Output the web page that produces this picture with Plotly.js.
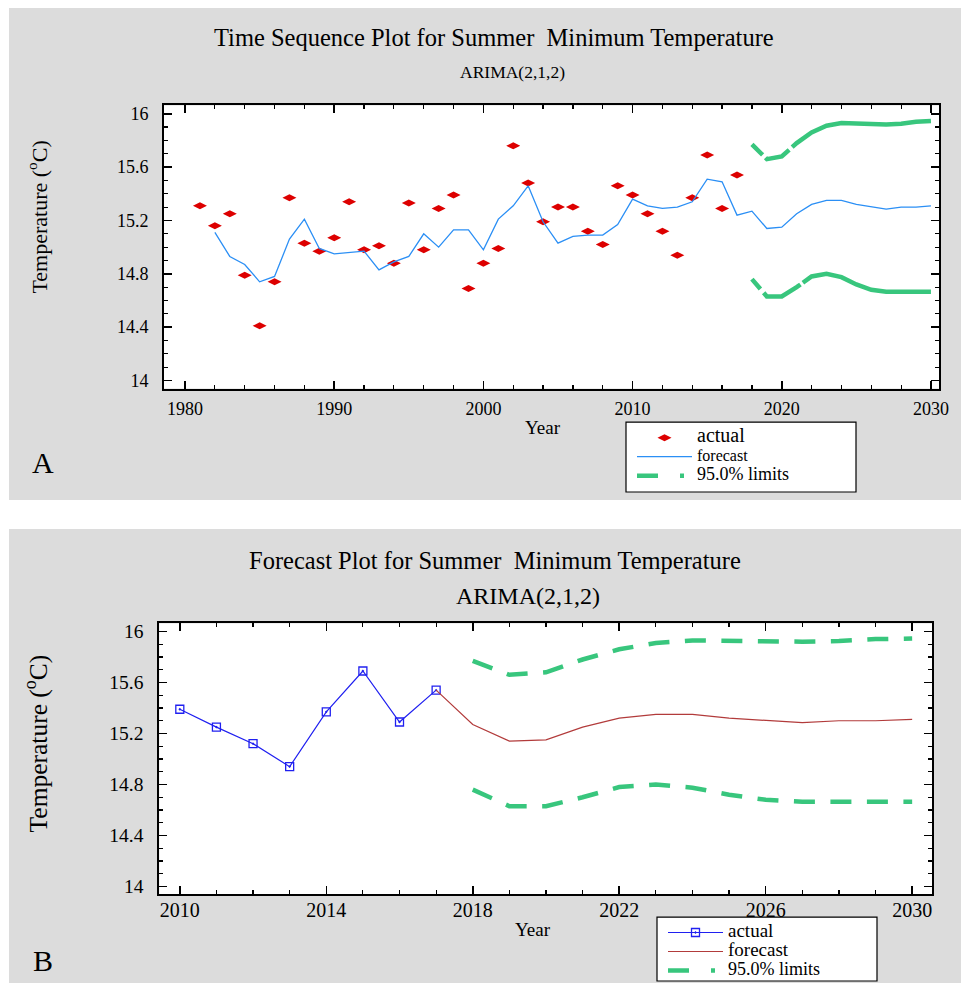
<!DOCTYPE html>
<html>
<head>
<meta charset="utf-8">
<script src="https://cdn.plot.ly/plotly-3.0.1.min.js"></script>
<style>
  html, body { margin: 0; padding: 0; background: #ffffff; }
  #chart { width: 968px; height: 985px; }
</style>
</head>
<body>
<div id="chart"></div>
<script>
// Observed summer minimum temperature (°C), 1981-2017
const actualYears = [1981, 1982, 1983, 1984, 1985, 1986, 1987, 1988, 1989, 1990,
  1991, 1992, 1993, 1994, 1995, 1996, 1997, 1998, 1999, 2000,
  2001, 2002, 2003, 2004, 2005, 2006, 2007, 2008, 2009, 2010,
  2011, 2012, 2013, 2014, 2015, 2016, 2017];
const actualTemp = [15.31, 15.16, 15.25, 14.79, 14.41, 14.74, 15.37, 15.03, 14.97, 15.07,
  15.34, 14.98, 15.01, 14.88, 15.33, 14.98, 15.29, 15.39, 14.69, 14.88,
  14.99, 15.76, 15.48, 15.19, 15.30, 15.30, 15.12, 15.02, 15.46, 15.39,
  15.25, 15.12, 14.94, 15.37, 15.69, 15.29, 15.54];

// One-step-ahead fitted values of the ARIMA(2,1,2) model, 1982-2017
const fittedYears = [1982, 1983, 1984, 1985, 1986, 1987, 1988, 1989, 1990, 1991,
  1992, 1993, 1994, 1995, 1996, 1997, 1998, 1999, 2000, 2001,
  2002, 2003, 2004, 2005, 2006, 2007, 2008, 2009, 2010, 2011,
  2012, 2013, 2014, 2015, 2016, 2017];
const fittedTemp = [15.11, 14.93, 14.87, 14.74, 14.78, 15.06, 15.21, 14.99, 14.95, 14.96,
  14.97, 14.83, 14.89, 14.93, 15.10, 15.00, 15.13, 15.13, 14.98, 15.21,
  15.31, 15.46, 15.19, 15.03, 15.08, 15.09, 15.09, 15.17, 15.36, 15.31,
  15.29, 15.30, 15.34, 15.51, 15.49, 15.24];

// Forecasts with 95% limits, 2018-2030
const forecastYears = [2018, 2019, 2020, 2021, 2022, 2023, 2024, 2025, 2026, 2027, 2028, 2029, 2030];
const forecastTemp = [15.27, 15.14, 15.15, 15.25, 15.32, 15.35, 15.35, 15.32, 15.30, 15.285, 15.30, 15.30, 15.31];
const upperLimit = [15.77, 15.66, 15.68, 15.78, 15.86, 15.91, 15.93, 15.925, 15.92, 15.92, 15.925, 15.94, 15.945];
const lowerLimit = [14.76, 14.63, 14.63, 14.70, 14.78, 14.80, 14.775, 14.72, 14.68, 14.665, 14.665, 14.665, 14.665];

// Axis tick labels
const yTickVals = [14, 14.4, 14.8, 15.2, 15.6, 16];
const yTickText = ['14', '14.4', '14.8', '15.2', '15.6', '16'];
const xTickValsA = [1980, 1990, 2000, 2010, 2020, 2030];
const xTickValsB = [2010, 2014, 2018, 2022, 2026, 2030];

// Zoomed-in window for the forecast plot
const zoomStart = 2010;

// ---- page geometry helpers (pixel -> figure fraction) ----
const W = 968, H = 985;
const fx = px => px / W;
const fy = py => 1 - py / H;

const SERIF = 'Liberation Serif, Times New Roman, serif';
const GREEN = '#38c67d';

// Panel A series
const fitLineX = fittedYears.concat(forecastYears);
const fitLineY = fittedTemp.concat(forecastTemp);

// Panel B series
const bActualX = [], bActualY = [];
actualYears.forEach((yr, i) => { if (yr >= zoomStart) { bActualX.push(yr); bActualY.push(actualTemp[i]); } });
const lastYear = actualYears[actualYears.length - 1];
const lastTemp = actualTemp[actualTemp.length - 1];
const bForecastX = [lastYear].concat(forecastYears);
const bForecastY = [lastTemp].concat(forecastTemp);

// dash used for the limits' legend sample: long dash, gap, short dot
const LIMIT_KEY_DASH = '21px,22px,4px,100px';

const traces = [
  // --- Panel A: time sequence plot ---
  {
    x: actualYears, y: actualTemp, xaxis: 'x', yaxis: 'y',
    type: 'scatter', mode: 'markers', legend: 'legend',
    name: '<span style="font-size:20px">actual</span>',
    marker: { symbol: 'diamond-wide', size: 10, color: '#dd0000' }
  },
  {
    x: fitLineX, y: fitLineY, xaxis: 'x', yaxis: 'y',
    type: 'scatter', mode: 'lines', legend: 'legend',
    name: '<span style="font-size:16px">forecast</span>',
    line: { color: '#2b8ff5', width: 1.3 }
  },
  {
    x: forecastYears, y: upperLimit, xaxis: 'x', yaxis: 'y',
    type: 'scatter', mode: 'lines', showlegend: false,
    line: { color: GREEN, width: 4.5, dash: '15px,4px,27px,4px,2000px' }
  },
  {
    x: forecastYears, y: lowerLimit, xaxis: 'x', yaxis: 'y',
    type: 'scatter', mode: 'lines', showlegend: false,
    line: { color: GREEN, width: 4.5, dash: '13px,5px,42px,3px,2000px' }
  },
  {
    x: [null], y: [null], xaxis: 'x', yaxis: 'y',
    type: 'scatter', mode: 'lines', legend: 'legend',
    name: '<span style="font-size:18px">95.0% limits</span>',
    line: { color: GREEN, width: 4.5, dash: LIMIT_KEY_DASH }
  },

  // --- Panel B: forecast plot ---
  {
    x: bActualX, y: bActualY, xaxis: 'x2', yaxis: 'y2',
    type: 'scatter', mode: 'lines+markers', legend: 'legend2',
    name: '<span style="font-size:19px">actual</span>',
    line: { color: '#2020f0', width: 1.2 },
    marker: { symbol: 'square-open-dot', size: 8, color: '#2020f0', line: { width: 1.3 } }
  },
  {
    x: bForecastX, y: bForecastY, xaxis: 'x2', yaxis: 'y2',
    type: 'scatter', mode: 'lines', legend: 'legend2',
    name: '<span style="font-size:19px">forecast</span>',
    line: { color: '#b23b3b', width: 1.2 }
  },
  {
    x: forecastYears, y: upperLimit, xaxis: 'x2', yaxis: 'y2',
    type: 'scatter', mode: 'lines', showlegend: false,
    line: { color: GREEN, width: 4.5, dash: '21px,15.5px' }
  },
  {
    x: forecastYears, y: lowerLimit, xaxis: 'x2', yaxis: 'y2',
    type: 'scatter', mode: 'lines', showlegend: false,
    line: { color: GREEN, width: 4.5, dash: '21px,15.5px' }
  },
  {
    x: [null], y: [null], xaxis: 'x2', yaxis: 'y2',
    type: 'scatter', mode: 'lines', legend: 'legend2',
    name: '<span style="font-size:18px">95.0% limits</span>',
    line: { color: GREEN, width: 4.5, dash: LIMIT_KEY_DASH }
  }
];

function axisStyle(extra) {
  return Object.assign({
    showgrid: false, zeroline: false,
    showline: true, linecolor: '#000', linewidth: 2, mirror: 'ticks',
    ticks: 'inside', ticklen: 8, tickwidth: 1.5, tickcolor: '#000',
    tickfont: { family: SERIF, size: 18, color: '#000' },
    fixedrange: true
  }, extra);
}

const legendBase = {
  xanchor: 'left', yanchor: 'top', orientation: 'v',
  bgcolor: 'rgba(0,0,0,0)', borderwidth: 0, itemwidth: 55, tracegroupgap: 0,
  font: { family: SERIF, size: 11, color: '#000' }
};

const layout = {
  width: W, height: H,
  margin: { l: 0, r: 0, t: 0, b: 0 },
  paper_bgcolor: '#ffffff',
  plot_bgcolor: 'rgba(0,0,0,0)',
  font: { family: SERIF, color: '#000' },

  xaxis: axisStyle({
    domain: [fx(164), fx(939)], range: [1978.59, 2030.54], anchor: 'y',
    tickmode: 'array', tickvals: xTickValsA, ticklabelstandoff: 3,
    minor: { dtick: 2, tick0: 1980, ticks: 'inside', ticklen: 4, tickwidth: 1.2, tickcolor: '#000' }
  }),
  yaxis: axisStyle({
    domain: [fy(389.3), fy(105.7)], range: [13.94, 16.062], anchor: 'x',
    tickmode: 'array', tickvals: yTickVals, ticktext: yTickText, ticklabelstandoff: 10,
    minor: { dtick: 0.1, tick0: 14, ticks: 'inside', ticklen: 4, tickwidth: 1.2, tickcolor: '#000' }
  }),
  xaxis2: axisStyle({
    domain: [fx(159.3), fx(932.3)], range: [2009.44, 2030.55], anchor: 'y2',
    tickmode: 'array', tickvals: xTickValsB, ticklabelstandoff: -3,
    tickfont: { family: SERIF, size: 20, color: '#000' },
    minor: { dtick: 1, tick0: 2010, ticks: 'inside', ticklen: 4, tickwidth: 1.2, tickcolor: '#000' }
  }),
  yaxis2: axisStyle({
    domain: [fy(896), fy(624.7)], range: [13.94, 16.063], anchor: 'x2',
    tickmode: 'array', tickvals: yTickVals, ticktext: yTickText, ticklabelstandoff: 10,
    tickfont: { family: SERIF, size: 19.5, color: '#000' },
    minor: { dtick: 0.1, tick0: 14, ticks: 'inside', ticklen: 4, tickwidth: 1.2, tickcolor: '#000' }
  }),

  shapes: [
    // grey panel backgrounds
    { type: 'rect', xref: 'paper', yref: 'paper', layer: 'below',
      x0: fx(9), x1: fx(961), y0: fy(501), y1: fy(8), fillcolor: '#dcdcdc', line: { width: 0 } },
    { type: 'rect', xref: 'paper', yref: 'paper', layer: 'below',
      x0: fx(9), x1: fx(961), y0: fy(985), y1: fy(530), fillcolor: '#dcdcdc', line: { width: 0 } },
    // white plotting areas
    { type: 'rect', xref: 'paper', yref: 'paper', layer: 'below',
      x0: fx(164), x1: fx(939), y0: fy(389.3), y1: fy(105.7), fillcolor: '#ffffff', line: { width: 0 } },
    { type: 'rect', xref: 'paper', yref: 'paper', layer: 'below',
      x0: fx(159.3), x1: fx(932.3), y0: fy(896), y1: fy(624.7), fillcolor: '#ffffff', line: { width: 0 } },
    // legend frames
    { type: 'rect', xref: 'paper', yref: 'paper', layer: 'below',
      x0: fx(626), x1: fx(856), y0: fy(493), y1: fy(423), fillcolor: '#ffffff', line: { color: '#000', width: 1.2 } },
    { type: 'rect', xref: 'paper', yref: 'paper', layer: 'below',
      x0: fx(657), x1: fx(877), y0: fy(983), y1: fy(919), fillcolor: '#ffffff', line: { color: '#000', width: 1.2 } }
  ],

  legend: Object.assign({}, legendBase, { x: fx(632), y: fy(424) }),
  legend2: Object.assign({}, legendBase, { x: fx(663), y: fy(920) }),

  annotations: [
    { text: 'Time Sequence Plot for Summer  Minimum Temperature', xref: 'paper', yref: 'paper',
      x: fx(494), y: fy(38), xanchor: 'center', yanchor: 'middle', showarrow: false,
      font: { family: SERIF, size: 24.5, color: '#000' } },
    { text: 'ARIMA(2,1,2)', xref: 'paper', yref: 'paper',
      x: fx(512), y: fy(72), xanchor: 'center', yanchor: 'middle', showarrow: false,
      font: { family: SERIF, size: 17.5, color: '#000' } },
    { text: 'Temperature (<sup>o</sup>C)', xref: 'paper', yref: 'paper', textangle: -90,
      x: fx(37), y: fy(218), xanchor: 'center', yanchor: 'middle', showarrow: false,
      font: { family: SERIF, size: 22, color: '#000' } },
    { text: 'Year', xref: 'paper', yref: 'paper',
      x: fx(543), y: fy(428), xanchor: 'center', yanchor: 'middle', showarrow: false,
      font: { family: SERIF, size: 19, color: '#000' } },
    { text: 'A', xref: 'paper', yref: 'paper',
      x: fx(42.5), y: fy(463), xanchor: 'center', yanchor: 'middle', showarrow: false,
      font: { family: SERIF, size: 30, color: '#000' } },

    { text: 'Forecast Plot for Summer  Minimum Temperature', xref: 'paper', yref: 'paper',
      x: fx(495), y: fy(562), xanchor: 'center', yanchor: 'middle', showarrow: false,
      font: { family: SERIF, size: 24.5, color: '#000' } },
    { text: 'ARIMA(2,1,2)', xref: 'paper', yref: 'paper',
      x: fx(528), y: fy(597), xanchor: 'center', yanchor: 'middle', showarrow: false,
      font: { family: SERIF, size: 24, color: '#000' } },
    { text: 'Temperature (<sup>o</sup>C)', xref: 'paper', yref: 'paper', textangle: -90,
      x: fx(37), y: fy(745), xanchor: 'center', yanchor: 'middle', showarrow: false,
      font: { family: SERIF, size: 25.5, color: '#000' } },
    { text: 'Year', xref: 'paper', yref: 'paper',
      x: fx(533), y: fy(931), xanchor: 'center', yanchor: 'middle', showarrow: false,
      font: { family: SERIF, size: 19, color: '#000' } },
    { text: 'B', xref: 'paper', yref: 'paper',
      x: fx(42.5), y: fy(962), xanchor: 'center', yanchor: 'middle', showarrow: false,
      font: { family: SERIF, size: 30, color: '#000' } }
  ]
};

Plotly.newPlot('chart', traces, layout, { staticPlot: true, displayModeBar: false });
</script>
</body>
</html>
